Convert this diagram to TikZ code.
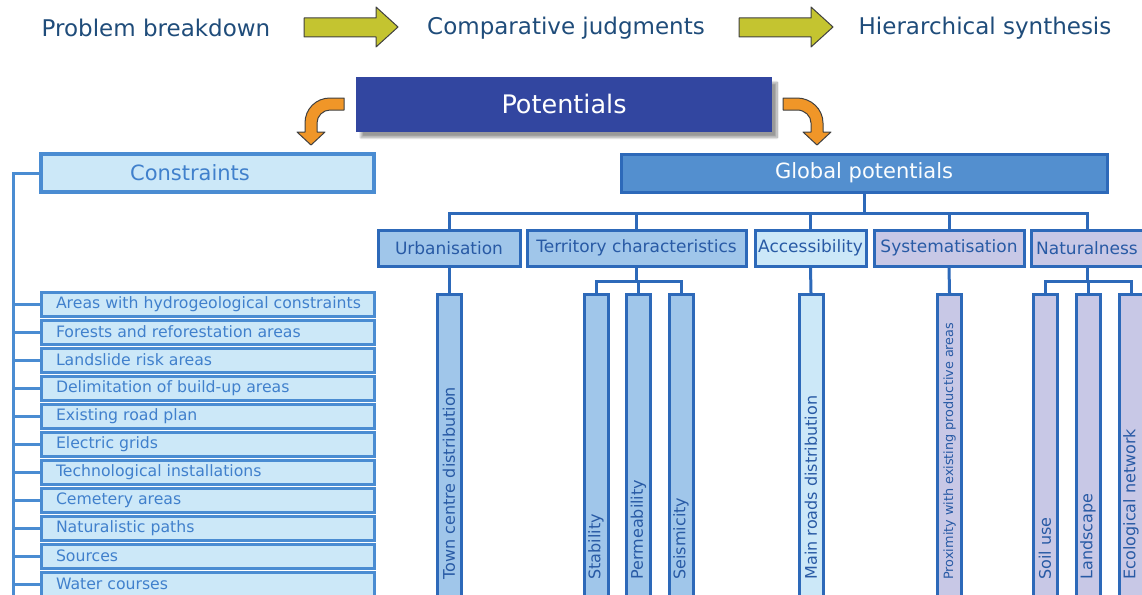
\documentclass[tikz,border=0pt]{standalone}
\usepackage{fontspec}
\setmainfont{DejaVu Sans}
\usetikzlibrary{shadows.blur}

\definecolor{titleblue}{RGB}{31,76,122}
\definecolor{arrowgreen}{RGB}{196,196,48}
\definecolor{arroworange}{RGB}{240,150,40}
\definecolor{potblue}{RGB}{50,70,160}
\definecolor{paleblue}{RGB}{204,232,248}
\definecolor{paleline}{RGB}{74,140,210}
\definecolor{paletext}{RGB}{64,128,204}
\definecolor{midblue}{RGB}{160,198,234}
\definecolor{darkline}{RGB}{45,105,185}
\definecolor{globblue}{RGB}{83,143,207}
\definecolor{lavender}{RGB}{200,200,230}
\definecolor{boxtext}{RGB}{40,90,165}

\tikzset{
    steptitle/.style={text=titleblue, font=\fontsize{23}{26}\selectfont},
    blockarrow/.style={draw=black!75, line width=1pt, line join=round},
    hdrbox/.style={draw=paleline, line width=3.2pt, fill=paleblue, text=paletext,
        minimum width=333pt, minimum height=38pt, inner sep=0pt,
        font=\fontsize{21}{24}\selectfont},
    itembox/.style={draw=paleline, line width=3pt, fill=paleblue, text=paletext,
        minimum height=24pt, inner ysep=0pt, inner xsep=15pt,
        font=\fontsize{15.7}{18}\selectfont},
    critbox/.style={draw=darkline, line width=3pt, text=boxtext,
        minimum height=36pt, inner sep=0pt, font=\fontsize{17}{20}\selectfont},
    colbox/.style={draw=darkline, line width=3pt, text=boxtext, rotate=90,
        anchor=east, minimum height=24pt, inner ysep=0pt, inner xsep=27pt,
        font=\fontsize{16}{18}\selectfont},
    tline/.style={darkline, line width=3pt},
    bline/.style={paleline, line width=3pt}
}

\begin{document}
\begin{tikzpicture}[x=1pt,y=-1pt]
    \useasboundingbox (0,0) rectangle (1142,594);
    \clip (0,0) rectangle (1142,594);
    % Draw the three steps on top
        \node[steptitle] (breakdown) at (156,28) {Problem breakdown};
        \node[steptitle] (judgments) at (566,28) {Comparative judgments};
        \node[steptitle] (synthesis) at (985,28) {Hierarchical synthesis};
        \filldraw[blockarrow, fill=arrowgreen]
            (304,18) -- (376,18) -- (376,7) -- (398,27) -- (376,47) -- (376,37) -- (304,37) -- cycle;
        \filldraw[blockarrow, fill=arrowgreen]
            (739,18) -- (811,18) -- (811,7) -- (833,27) -- (811,47) -- (811,37) -- (739,37) -- cycle;
    % Draw the main box and its bent arrows
        \node[fill=potblue, text=white, minimum width=416pt, minimum height=55pt,
            font=\fontsize{25.5}{30}\selectfont,
            blur shadow={shadow xshift=5pt, shadow yshift=-6pt, shadow blur steps=10}]
            (potentials) at (564,104) {Potentials};
        \filldraw[blockarrow, fill=arroworange]
            (344,98) -- (330,98) .. controls (316,98) and (305,109) .. (305,123)
            -- (305,132) -- (297,132) -- (311,145) -- (325,132) -- (317,132) -- (317,123)
            .. controls (317,116) and (323,110) .. (330,110) -- (344,110) -- cycle;
        \filldraw[blockarrow, fill=arroworange]
            (783,98) -- (797,98) .. controls (811,98) and (823,109) .. (823,123)
            -- (823,132) -- (831,132) -- (817,145) -- (803,132) -- (811,132) -- (811,123)
            .. controls (811,116) and (805,110) .. (797,110) -- (783,110) -- cycle;
    % Draw the constraints branch
        \node[hdrbox] (cons) at (207.5,173) {\hspace*{-35pt}Constraints};
        \coordinate (brtop) at (13,173);
        \coordinate (brbot) at (13,600);
        \draw[bline] (cons.west) -- (brtop) -- (brbot);
        \foreach \lab [count=\i] in {Areas with hydrogeological constraints,
            Forests and reforestation areas, Landslide risk areas,
            Delimitation of build-up areas, Existing road plan, Electric grids,
            Technological installations, Cemetery areas, Naturalistic paths,
            Sources, Water courses}
        {
            \node[itembox] (item\i) at (207.5,{304+28*(\i-1)}) {\makebox[303pt][l]{\lab}};
            \draw[bline] (item\i.west) -- (item\i.west -| brtop);
        }
    % Draw the global potentials tree
        \node[draw=darkline, line width=3pt, fill=globblue, text=white!92!paleblue,
            minimum width=486pt, minimum height=38pt, inner sep=0pt,
            font=\fontsize{21}{24}\selectfont] (glob) at (864,173) {Global potentials};
        \node[critbox, fill=midblue, minimum width=142pt] (urb) at (449,248) {Urbanisation};
        \node[critbox, fill=midblue, minimum width=219pt] (ter) at (636.5,248) {Territory characteristics};
        \node[critbox, fill=paleblue, minimum width=111pt] (acc) at (810.5,248) {Accessibility};
        \node[critbox, fill=lavender, minimum width=150pt] (sys) at (949,248) {Systematisation};
        \node[critbox, fill=lavender, minimum width=112pt] (nat) at (1087,248) {Naturalness};
        \draw[tline] (glob.south) -- ++(0,20) coordinate (hub);
        \foreach \n in {urb,ter,acc,sys,nat}
            \draw[tline] (hub) -| (\n.north);
    % Draw the sub-criteria columns
        \foreach \n/\x/\c/\lab in {town/449/midblue/Town centre distribution,
            stab/596/midblue/Stability, perm/638.5/midblue/Permeability,
            seis/681/midblue/Seismicity, road/811/paleblue/Main roads distribution,
            soil/1045/lavender/Soil use, land/1088/lavender/Landscape,
            eco/1131/lavender/Ecological network}
            \node[colbox, fill=\c] (\n) at (\x,293) {\makebox[258pt][l]{\lab}};
        \node[colbox, fill=lavender, font=\fontsize{12.8}{15}\selectfont] (prox) at (949.5,293)
            {\makebox[258pt][l]{Proximity with existing productive areas}};
        \draw[tline] (urb.south) -- (town.east);
        \draw[tline] (acc.south) -- (road.east);
        \draw[tline] (sys.south) -- (prox.east);
        \draw[tline] (ter.south) -- ++(0,14) coordinate (tersplit);
        \foreach \n in {stab,perm,seis}
            \draw[tline] (tersplit) -| (\n.east);
        \draw[tline] (nat.south) -- ++(0,14) coordinate (natsplit);
        \foreach \n in {soil,land,eco}
            \draw[tline] (natsplit) -| (\n.east);
\end{tikzpicture}
\end{document}
